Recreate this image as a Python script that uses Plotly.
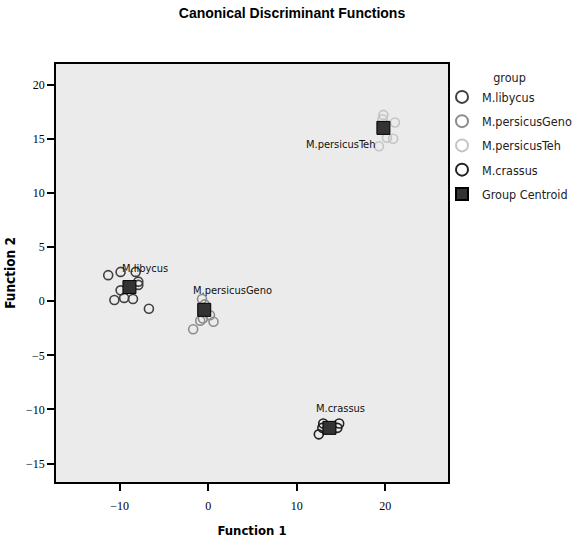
import plotly.graph_objects as go

groups = ["M.libycus", "M.persicusGeno", "M.persicusTeh", "M.crassus"]

libycus_f1 = [-11.3, -9.9, -8.2, -7.9, -7.9, -9.9, -10.6, -9.5, -8.5, -6.7]
libycus_f2 = [2.4, 2.7, 2.7, 1.8, 1.5, 1.0, 0.1, 0.3, 0.2, -0.7]

geno_f1 = [-0.7, 0.2, -0.9, 0.6, -1.7, -0.6, -0.4]
geno_f2 = [0.2, -1.3, -1.8, -1.9, -2.6, -1.6, -0.3]

teh_f1 = [19.8, 21.1, 20.2, 20.9, 19.3, 19.7]
teh_f2 = [17.2, 16.5, 15.1, 15.0, 14.3, 16.8]

crassus_f1 = [13.0, 14.8, 14.6, 12.5, 12.9]
crassus_f2 = [-11.3, -11.3, -11.7, -12.3, -11.7]

centroid_f1 = [-8.9, -0.45, 19.8, 13.7]
centroid_f2 = [1.3, -0.8, 16.0, -11.7]

x_ticks = [-10, 0, 10, 20]
y_ticks = [-15, -10, -5, 0, 5, 10, 15, 20]

SANS = "DejaVu Sans Condensed, Liberation Sans Narrow, Liberation Sans, Arial"
SERIF = "Liberation Serif, Times New Roman"

series = [
    (libycus_f1, libycus_f2, "#404040"),
    (geno_f1, geno_f2, "#8c8c8c"),
    (teh_f1, teh_f2, "#c4c4c4"),
    (crassus_f1, crassus_f2, "#222222"),
]

fig = go.Figure()
for name, (xs, ys, col) in zip(groups, series):
    fig.add_trace(go.Scatter(
        x=xs, y=ys, mode="markers", name=name, legendgroup=name,
        marker=dict(symbol="circle-open", size=9, color=col, line=dict(width=1.6, color=col)),
    ))

fig.add_trace(go.Scatter(
    x=centroid_f1, y=centroid_f2, mode="markers", name="Group Centroid", legendgroup="centroid",
    marker=dict(symbol="square", size=13, color="#333333", line=dict(width=1, color="#000000")),
))

label_offsets = [(16, 19), (28, 19), (-43, -17), (11, 19)]
for name, cx, cy, (dx, dy) in zip(groups, centroid_f1, centroid_f2, label_offsets):
    fig.add_annotation(
        x=cx, y=cy, xref="x", yref="y", text=name, showarrow=False,
        xshift=dx, yshift=dy,
        font=dict(family=SANS, size=11, color="#111111"),
    )

fig.update_layout(
    width=574, height=544,
    margin=dict(l=56, r=126, t=64, b=62, autoexpand=False),
    paper_bgcolor="white",
    plot_bgcolor="#ebebeb",
    title=dict(
        text="<b>Canonical Discriminant Functions</b>",
        x=292 / 574, xref="container", xanchor="center",
        y=1 - 8 / 544, yref="container", yanchor="top",
        font=dict(family="Liberation Sans, Arial", size=14, color="#000000"),
    ),
    showlegend=True,
    legend=dict(
        x=442 / 574, y=1 - 66 / 544, xref="container", yref="container",
        xanchor="left", yanchor="top",
        title=dict(text="group", side="top center", font=dict(family=SANS, size=12.5, color="#222")),
        font=dict(family=SANS, size=12.5, color="#222"),
        itemsizing="constant",
        tracegroupgap=5,
        bgcolor="rgba(0,0,0,0)",
    ),
    xaxis=dict(
        range=[-17.2, 27.1], tickvals=x_ticks, showgrid=False, zeroline=False, automargin=False,
        ticks="outside", ticklen=7, tickwidth=1.5, tickcolor="#000", ticklabelstandoff=5,
        showline=True, linecolor="#000", linewidth=1.5, mirror=True,
        tickfont=dict(family=SERIF, size=12, color="#000"),
        title=dict(text="<b>Function 1</b>", standoff=14, font=dict(family=SANS, size=13, color="#000")),
    ),
    yaxis=dict(
        range=[-16.7, 21.9], tickvals=y_ticks, showgrid=False, zeroline=False, automargin=False,
        ticks="outside", ticklen=7, tickwidth=1.5, tickcolor="#000",
        showline=True, linecolor="#000", linewidth=1.5, mirror=True,
        tickfont=dict(family=SERIF, size=12, color="#000"),
        title=dict(text="<b>Function 2</b>", standoff=7, font=dict(family=SANS, size=13.5, color="#000")),
    ),
)

fig.write_html("out.html", config={"displayModeBar": False},
               post_script="document.body.style.margin='0px';")
